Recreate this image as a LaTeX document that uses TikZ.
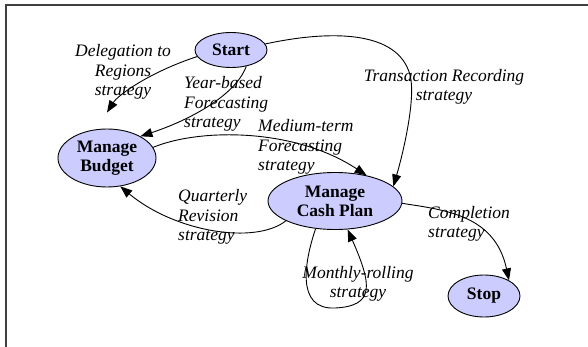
\documentclass[tikz,border=0pt]{standalone}
\usepackage{fontspec}
\setmainfont{Liberation Serif}
\usetikzlibrary{shapes.geometric,arrows.meta}
\definecolor{nodefill}{RGB}{204,204,255}
\definecolor{framegray}{RGB}{64,64,64}
\begin{document}
\begin{tikzpicture}[x=1pt,y=-1pt,
  state/.style={ellipse,draw=black,line width=0.9pt,fill=nodefill,inner sep=0pt,
    font=\fontsize{17.5}{19}\selectfont\bfseries,align=center},
  lbl/.style={inner sep=0pt,font=\fontsize{17.5}{19.5}\selectfont\itshape},
  arr/.style={line width=0.9pt,-{Triangle[length=12pt,width=9pt]}}]
\useasboundingbox (0,0) rectangle (588,347);
\draw[framegray,line width=2pt] (5.5,347) -- (5.5,5.5) -- (588,5.5);

\node[state,minimum width=72pt,minimum height=35pt] (start) at (231,50) {Start};
\node[state,minimum width=98pt,minimum height=58pt] (budget) at (107,158) {Manage\\Budget};
\node[state,minimum width=134pt,minimum height=57pt] (cash) at (335,201) {Manage\\Cash Plan};
\node[state,minimum width=72pt,minimum height=42pt] (stop) at (484,296) {Stop};

% Delegation to Regions
\draw[arr] (start.191) .. controls (150,72) and (118,95) .. ([yshift=16pt]budget.north);
\node[lbl,align=center] (l1) at (123,72) {Delegation to\\Regions\\strategy};

% Year-based
\draw[arr] (start.313) .. controls (236,95) and (190,120) .. (budget.33);
\node[lbl,align=left,anchor=west] (l2) at (184,104) {Year-based\\Forecasting\\strategy};

% Transaction Recording
\draw[arr] (start.10) .. controls (330,30) and (398,30) .. (410,75)
  .. controls (416,97) and (404,150) .. (cash.14);
\node[lbl,align=center] (l3) at (444,87) {Transaction Recording\\strategy};

% Medium-term
\draw[arr] (budget.13) .. controls (200,128) and (295,128) .. (cash.39);
\node[lbl,align=left,anchor=west] (l4) at (258,147) {Medium-term\\Forecasting\\strategy};

% Quarterly revision
\draw[arr] (cash.202) .. controls (255,245) and (175,232) .. (budget.295);
\node[lbl,align=left,anchor=west] (l5) at (178,217) {Quarterly\\Revision\\strategy};

% Completion
\draw[arr] (cash.358) .. controls (445,210) and (495,215) .. (stop.32);
\node[lbl,align=left,anchor=west] (l6) at (428,224) {Completion\\strategy};

% Monthly-rolling
\draw[arr] (cash.235) .. controls (305,260) and (295,310) .. (335,308)
  .. controls (375,306) and (372,285) .. (cash.294);
\node[lbl,align=center] (l7) at (358,284) {Monthly-rolling\\strategy};
\end{tikzpicture}
\end{document}
